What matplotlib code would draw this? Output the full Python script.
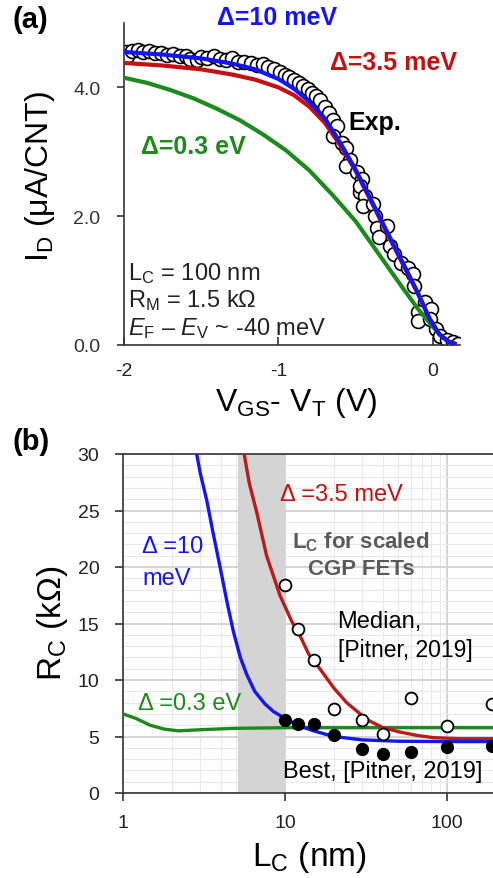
import matplotlib
matplotlib.use('Agg')
import matplotlib.pyplot as plt
from matplotlib.ticker import MultipleLocator, FixedLocator, NullFormatter

plt.rcParams['font.family'] = ['Liberation Sans', 'DejaVu Sans']
plt.rcParams['mathtext.fontset'] = 'custom'
plt.rcParams['mathtext.rm'] = 'Liberation Sans'
plt.rcParams['mathtext.it'] = 'Liberation Sans:italic'
plt.rcParams['mathtext.bf'] = 'Liberation Sans:bold'

# ---------------- data: panel (a) ----------------
exp_v = [-1.99, -1.98, -1.95, -1.91, -1.88, -1.84, -1.80, -1.76, -1.72, -1.68,
         -1.64, -1.60, -1.57, -1.53, -1.50, -1.46, -1.42, -1.38, -1.34, -1.30,
         -1.26, -1.22, -1.18, -1.14, -1.10, -1.07, -1.03, -0.99, -0.96, -0.93,
         -0.90, -0.87, -0.84, -0.81, -0.785, -0.76, -0.73, -0.70, -0.67, -0.65,
         -0.62, -0.645, -0.59, -0.56, -0.54, -0.56, -0.49, -0.46, -0.47, -0.47,
         -0.44, -0.45, -0.39, -0.375, -0.36, -0.35, -0.30, -0.28, -0.25, -0.21,
         -0.16, -0.13, -0.12, -0.05, -0.095, -0.095, -0.01, -0.02, 0.02, 0.045,
         0.09, 0.13, 0.165]
exp_i = [4.55, 4.49, 4.57, 4.58, 4.55, 4.56, 4.53, 4.54, 4.51, 4.52,
         4.49, 4.48, 4.44, 4.43, 4.47, 4.46, 4.48, 4.44, 4.43, 4.45,
         4.39, 4.40, 4.38, 4.35, 4.37, 4.31, 4.28, 4.24, 4.20, 4.16,
         4.12, 4.07, 4.02, 3.97, 3.92, 3.87, 3.81, 3.70, 3.61, 3.50,
         3.40, 3.24, 3.14, 3.06, 2.88, 2.78, 2.68, 2.57, 2.37, 2.47,
         2.31, 2.16, 2.19, 2.00, 1.82, 1.67, 1.85, 1.54, 1.41, 1.28,
         1.20, 1.10, 0.92, 0.66, 0.51, 0.38, 0.56, 0.40, 0.25, 0.14,
         0.07, 0.04, 0.02]

vgs_10 = [-2.00, -1.75, -1.50, -1.30, -1.15, -1.00, -0.90, -0.80, -0.70, -0.60,
          -0.50, -0.40, -0.30, -0.20, -0.10, -0.02, 0.04, 0.10, 0.14]
id_10 = [4.55, 4.51, 4.45, 4.37, 4.28, 4.13, 3.98, 3.78, 3.52, 3.14,
         2.72, 2.25, 1.77, 1.30, 0.82, 0.40, 0.17, 0.05, 0.02]

vgs_35 = [-2.00, -1.75, -1.50, -1.30, -1.15, -1.00, -0.90, -0.80, -0.70, -0.60,
          -0.50, -0.40, -0.30, -0.20, -0.10, -0.02, 0.04, 0.10, 0.14]
id_35 = [4.38, 4.34, 4.28, 4.20, 4.12, 4.00, 3.88, 3.70, 3.45, 3.10,
         2.70, 2.23, 1.75, 1.28, 0.81, 0.40, 0.17, 0.05, 0.02]

vgs_03 = [-2.00, -1.85, -1.70, -1.55, -1.40, -1.25, -1.10, -0.95, -0.80, -0.65,
          -0.50, -0.40, -0.30, -0.20, -0.10, 0.00, 0.05, 0.10, 0.14]
id_03 = [4.15, 4.07, 3.96, 3.83, 3.67, 3.49, 3.27, 3.02, 2.71, 2.33,
         1.92, 1.58, 1.24, 0.90, 0.57, 0.28, 0.15, 0.06, 0.02]

a_xticks = [-2, -1, 0]
a_xticklabels = ['-2', '-1', '0']
a_yticks = [0, 2, 4]
a_yticklabels = ['0.0', '2.0', '4.0']

# ---------------- data: panel (b) ----------------
lc_median = [10, 12, 15, 20, 30, 40, 60, 100, 190]
rc_median = [18.4, 14.55, 11.8, 7.4, 6.5, 5.2, 8.4, 5.9, 7.85]
lc_best = [10, 12, 15, 20, 30, 40, 60, 100, 190]
rc_best = [6.45, 6.1, 6.1, 5.1, 3.85, 3.45, 3.65, 4.05, 4.2]

lc_10 = [2.85, 3.0, 3.3, 3.6, 4.0, 4.4, 4.8, 5.3, 5.8, 6.5, 7.5, 8.5, 10, 12, 15,
         20, 30, 50, 100, 1000]
rc_10 = [30.0, 28.3, 25.8, 23.0, 19.8, 16.8, 14.3, 12.0, 10.5, 9.0, 7.9, 7.2, 6.6,
         6.0, 5.5, 5.0, 4.7, 4.58, 4.55, 4.55]

lc_35 = [5.6, 6.0, 6.7, 7.7, 9.3, 11, 12.4, 14, 16.4, 20, 24, 28, 32, 40, 51, 65,
         82, 120, 1000]
rc_35 = [30.0, 27.5, 24.8, 21.0, 17.5, 15.2, 13.9, 12.3, 11.0, 9.3, 8.0, 7.2, 6.5,
         5.8, 5.4, 5.1, 4.9, 4.8, 4.8]

lc_03 = [1.0, 1.2, 1.47, 1.8, 2.2, 3.0, 4.8, 10, 1000]
rc_03 = [7.0, 6.6, 6.0, 5.65, 5.5, 5.6, 5.72, 5.78, 5.78]

band_lc = [5.1, 10]
b_xticks = [1, 10, 100]
b_xticklabels = ['1', '10', '100']
b_yticks = [0, 5, 10, 15, 20, 25, 30]

# ---------------- figure ----------------
W, H = 493, 879
fig = plt.figure(figsize=(W / 100, H / 100), dpi=100)

BLUE = '#1515f0'
RED = '#c41010'
RED_B = '#b81c1c'
GREEN = '#1e8a1e'

# ---- panel (a) ----
axA = fig.add_axes([124 / W, 1 - 346 / H, (460 - 124) / W, (346 - 24) / H])
axA.plot(exp_v, exp_i, 'o', ms=10, mfc='white', mec='black', mew=1.2, zorder=2)
axA.plot(vgs_03, id_03, color=GREEN, lw=3, zorder=3)
axA.plot(vgs_35, id_35, color=RED, lw=3, zorder=3)
axA.plot(vgs_10, id_10, color=BLUE, lw=3, zorder=4)
axA.set_xlim(-2, 0.175)
axA.set_ylim(0, 5)
axA.set_xticks(a_xticks)
axA.set_xticklabels(a_xticklabels)
axA.set_yticks(a_yticks)
axA.set_yticklabels(a_yticklabels)
for s in ['top', 'right']:
    axA.spines[s].set_visible(False)
for s in ['left', 'bottom']:
    axA.spines[s].set_color('#333333')
    axA.spines[s].set_linewidth(1.2)
axA.tick_params(axis='y', direction='out', length=5, width=1.2, pad=12,
                labelsize=14, color='#333333', labelcolor='#333333')
axA.tick_params(axis='x', direction='in', length=6, width=1.2, pad=12,
                labelsize=14, color='#333333', labelcolor='#222222')
axA.set_xlabel(r'V$_\mathregular{GS}$- V$_\mathregular{T}$ (V)', fontsize=23,
               va='center')
axA.xaxis.set_label_coords(0.512, -0.177)
axA.set_ylabel(r'I$_\mathregular{D}$ ($\mathregular{\mu}$A/CNT)', fontsize=23,
               va='center')
axA.yaxis.set_label_coords(-0.25, 0.525)

axA.text(-1.01, 5.10, 'Δ=10 meV', color=BLUE, fontsize=18, fontweight='bold',
         ha='center', va='center', clip_on=False)
axA.text(-0.256, 4.40, 'Δ=3.5 meV', color=RED, fontsize=18, fontweight='bold',
         ha='center', va='center', clip_on=False)
axA.text(-0.375, 3.46, 'Exp.', color='black', fontsize=18, fontweight='bold',
         ha='center', va='center')
axA.text(-1.55, 3.09, 'Δ=0.3 eV', color=GREEN, fontsize=18, fontweight='bold',
         ha='center', va='center')
axA.text(-1.974, 1.02, r'L$_\mathregular{C}$ = 100 nm', fontsize=17,
         color='#222222', ha='left', va='baseline')
axA.text(-1.974, 0.61, r'R$_\mathregular{M}$ = 1.5 kΩ', fontsize=17,
         color='#222222', ha='left', va='baseline')
axA.text(-1.974, 0.17, r'$E_\mathregular{F}$ – $E_\mathregular{V}$ ~ -40 meV',
         fontsize=17, color='#222222', ha='left', va='baseline')

fig.text(13 / W, 1 - 20 / H, '(a)', fontsize=21, fontweight='bold',
         ha='left', va='center')

# ---- panel (b) ----
axB = fig.add_axes([123 / W, 1 - 794 / H, (W - 123) / W, 339 / H])
axB.set_xscale('log')
axB.set_xlim(1, 10 ** ((W - 123) / 162))
axB.set_ylim(0, 30)
axB.set_xticks(b_xticks)
axB.set_xticklabels(b_xticklabels)
axB.xaxis.set_minor_locator(FixedLocator(
    [m * 10 ** d for d in range(0, 3) for m in range(2, 10)]))
axB.xaxis.set_minor_formatter(NullFormatter())
axB.set_yticks(b_yticks)
axB.yaxis.set_minor_locator(MultipleLocator(1))
axB.grid(True, which='major', color='#d2d2d2', lw=1.3, zorder=0)
axB.grid(True, which='minor', color='#e9e9e9', lw=0.8, zorder=0)
axB.set_axisbelow(True)
axB.axvspan(band_lc[0], band_lc[1], color='#d4d4d4', lw=0, zorder=1)

axB.plot(lc_03, rc_03, color=GREEN, lw=2.4, zorder=3)
axB.plot(lc_35, rc_35, color=RED_B, lw=2.4, zorder=3)
axB.plot(lc_10, rc_10, color=BLUE, lw=2.4, zorder=3)
axB.plot(lc_median, rc_median, 'o', ms=8.5, mfc='white', mec='black', mew=1.3,
         zorder=4)
axB.plot(lc_best, rc_best, 'o', ms=8.5, mfc='black', mec='black', zorder=4)

axB.spines['right'].set_visible(False)
for s in ['left', 'bottom', 'top']:
    axB.spines[s].set_color('#333333')
    axB.spines[s].set_linewidth(1.2)
axB.tick_params(axis='both', which='major', direction='out', length=6,
                width=1.2, labelsize=14, color='#333333', labelcolor='#222222')
axB.tick_params(axis='y', which='major', pad=11)
axB.tick_params(axis='x', which='major', pad=9)
axB.tick_params(which='minor', length=0)
axB.set_xlabel(r'L$_\mathregular{C}$ (nm)', fontsize=24, va='center')
axB.xaxis.set_label_coords((309 - 123) / (W - 123), -0.186)
axB.set_ylabel(r'R$_\mathregular{C}$ (kΩ)', fontsize=24, va='center')
axB.yaxis.set_label_coords((52 - 123) / (W - 123), 0.504)

axB.text(9.31, 25.96, 'Δ =3.5 meV', color=RED, fontsize=17, ha='left',
         va='baseline')
axB.text(1.31, 21.3, 'Δ =10', color=BLUE, fontsize=17, ha='left', va='baseline')
axB.text(1.31, 18.5, 'meV', color=BLUE, fontsize=17, ha='left', va='baseline')
axB.text(29.4, 21.7, r'L$_\mathbf{C}$ for scaled', color='#5a5a5a', fontsize=16,
         fontweight='bold', ha='center', va='baseline')
axB.text(29.4, 19.4, 'CGP FETs', color='#5a5a5a', fontsize=16,
         fontweight='bold', ha='center', va='baseline')
axB.text(21.1, 14.66, 'Median,', color='black', fontsize=17, ha='left',
         va='baseline')
axB.text(21.1, 12.15, '[Pitner, 2019]', color='black', fontsize=16.5,
         ha='left', va='baseline')
axB.text(1.243, 7.43, 'Δ =0.3 eV', color=GREEN, fontsize=17, ha='left',
         va='baseline')
axB.text(9.68, 1.39, 'Best, [Pitner, 2019]', color='black', fontsize=17,
         ha='left', va='baseline')

fig.text(13 / W, 1 - 442 / H, '(b)', fontsize=21, fontweight='bold',
         ha='left', va='center')

fig.savefig('out.png', dpi=100)
